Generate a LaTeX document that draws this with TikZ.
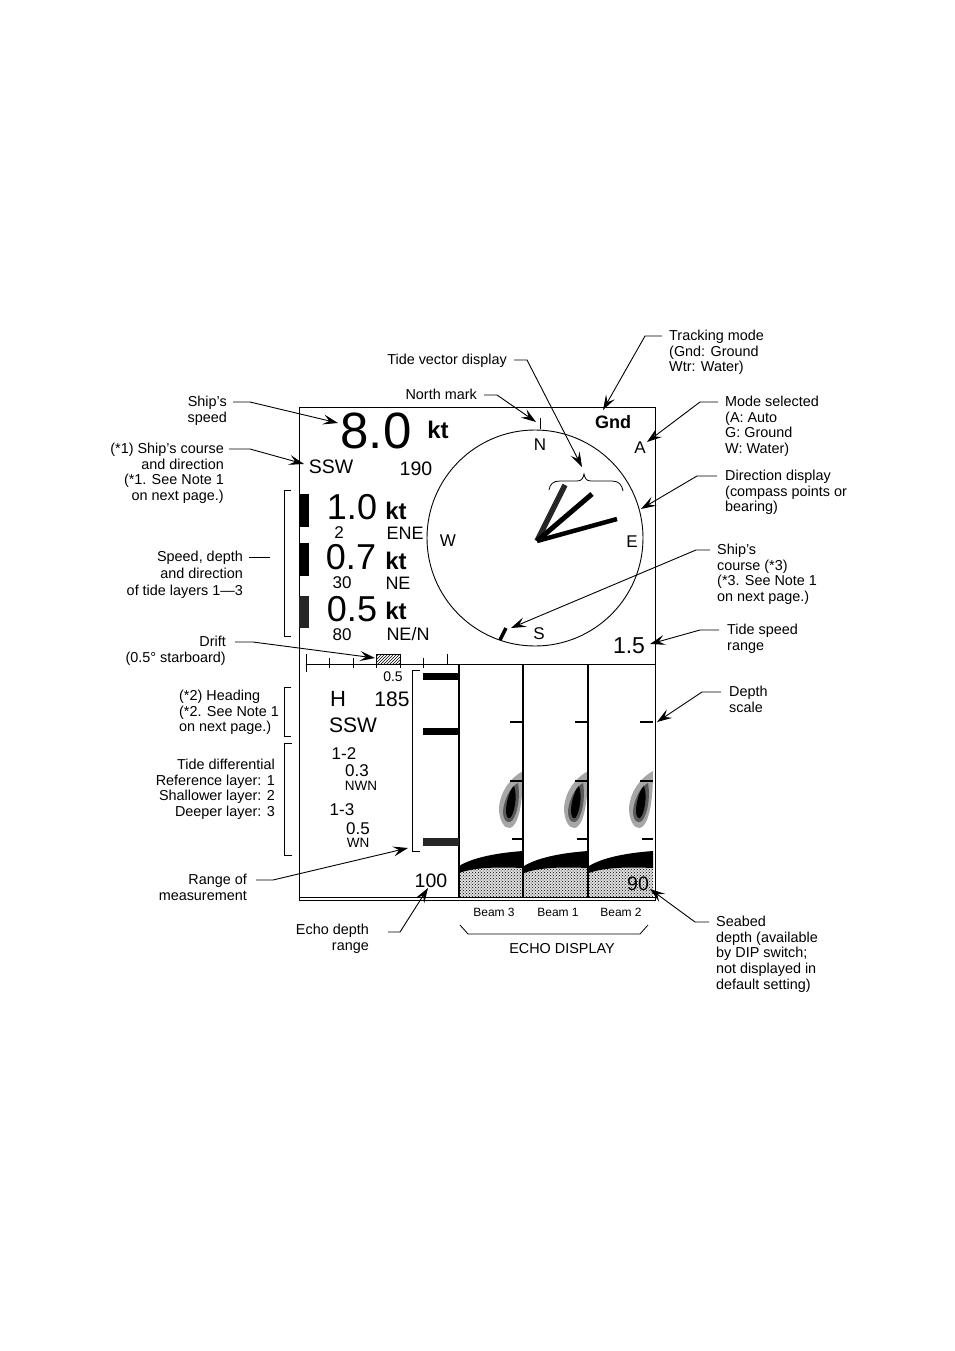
\documentclass[tikz,border=0pt]{standalone}
\usepackage{fontspec}
\setmainfont{Liberation Sans}
\usetikzlibrary{arrows.meta,patterns,calc}
\newcommand{\fs}[1]{\fontsize{#1}{#1}\selectfont}
\tikzset{
 lbl/.style={inner sep=0pt,font=\fontsize{14.4}{15.6}\selectfont},
 lbll/.style={lbl,anchor=north west,align=left},
 lblr/.style={lbl,anchor=north east,align=right},
 disp/.style={inner sep=0pt,anchor=center},
 lead/.style={line width=0.9pt,-{Stealth[length=15pt,width=10pt,inset=6pt]}},
 plain/.style={line width=0.8pt},
 frame/.style={line width=1pt},
 heavy/.style={line width=1.2pt}
}
\begin{document}
\begin{tikzpicture}[x=1pt,y=-1pt]
\useasboundingbox (0,0) rectangle (954,1351);
\fill[white] (0,0) rectangle (954,1351);
% echo beams
\foreach \sx/\nm in {0/a,65/b,130/c}{
 \begin{scope}[xshift=\sx pt]
  \fill[gray!25] (459,868) -- (459,897) -- (523,897) -- (523,866) -- cycle;
  \fill[pattern=crosshatch dots,pattern color=black] (459,868) -- (459,897) -- (523,897) -- (523,866) -- cycle;
  \fill[black] (459,866) .. controls (472,858) and (495,853) .. (523,851) -- (523,868) .. controls (500,867) and (475,867) .. (459,873) -- cycle;
  \fill[gray!70] (523,771) .. controls (510,778) and (500,792) .. (499,808) .. controls (499,820) and (504,829) .. (510,828) .. controls (518,826) and (523,805) .. (523,771) -- cycle;
  \fill[black!65] (518,783) .. controls (510,787) and (504,800) .. (503,811) .. controls (503,819) and (506,823) .. (510,822) .. controls (516,820) and (521,800) .. (518,783) -- cycle;
  \fill[black] (514,786) .. controls (510,789) and (506,802) .. (506,811) .. controls (506,816) and (508,819) .. (510,818) .. controls (514,815) and (518,796) .. (514,786) -- cycle;
  \draw[heavy] (510,722) -- (523,722);
  \draw[heavy] (510,781) -- (523,781);
  \draw[heavy] (512,839) -- (523,839);
 \end{scope}
}
% frame
\draw[frame] (299,407) rectangle (655,900);
\draw[frame] (306,664) -- (655,664);
\draw[frame] (299,897) -- (655,897);
\draw[heavy] (459,664) -- (459,897);
\draw[heavy] (523,664) -- (523,897);
\draw[heavy] (588,664) -- (588,897);
% compass
\node[draw,circle,line width=0.9pt,minimum size=216pt,inner sep=0pt] (dial) at (535,538) {};
\draw[plain] (540,418) -- (540,429);
\coordinate (hub) at (537,541);
\coordinate (v1) at (565,485);
\coordinate (v2) at (592,494);
\coordinate (v3) at (617,519);
\draw[line width=5.5pt,black!85] (hub) -- (v1);
\draw[line width=5pt] (hub) -- (v2);
\draw[line width=4.5pt] (hub) -- (v3);
\draw[line width=3.5pt] (500,640) -- (506,628);
\draw[plain] (549,490) .. controls (550,484) and (553,481) .. (560,481) -- (577,481) .. controls (582,481) and (583,478) .. (584,474) .. controls (585,478) and (586,481) .. (591,481) -- (612,481) .. controls (619,481) and (622,485) .. (623,491);
% left bars
\fill (299,494) rectangle (309,527);
\fill (299,543) rectangle (309,576);
\fill[black!85] (299,596) rectangle (309,628);
% drift scale
\draw[frame] (306,654) -- (306,672);
\foreach \tx in {329,353,376,400,423}{\draw[plain] (\tx,658) -- (\tx,668);}
\draw[frame] (447,654) -- (447,664);
\draw[plain,pattern=north east lines,pattern color=black] (376,654) rectangle (400,664);
% brackets
\draw[plain] (291,490) -- (284,490) -- (284,636) -- (291,636);
\draw[plain] (291,687) -- (284,687) -- (284,736) -- (291,736);
\draw[plain] (292,743) -- (284,743) -- (284,855) -- (292,855);
\draw[frame] (420,670) -- (412,670) -- (412,851) -- (420,851);
\fill (423,673) rectangle (459,680);
\fill (423,728) rectangle (459,735);
\fill[black!85] (423,838) rectangle (459,846);
% readouts
\node[disp,font=\fs{51}] (spd) at (376,431) {8.0};
\node[disp,font=\bfseries\fs{24}] (kt0) at (438,430) {kt};
\node[disp,font=\bfseries\fs{18}] (gnd) at (613,422) {Gnd};
\node[disp,font=\fs{19.5}] (ssw) at (331,467) {SSW};
\node[disp,font=\fs{19.5}] (c190) at (416,469) {190};
\node[disp,font=\fs{36}] (s1) at (352,507) {1.0};
\node[disp,font=\bfseries\fs{24}] (k1) at (396,511) {kt};
\node[disp,font=\fs{17}] (d1) at (339,533) {2};
\node[disp,font=\fs{18}] (b1) at (405,533) {ENE};
\node[disp,font=\fs{36}] (s2) at (351,557) {0.7};
\node[disp,font=\bfseries\fs{24}] (k2) at (396,561) {kt};
\node[disp,font=\fs{17}] (d2) at (342,583) {30};
\node[disp,font=\fs{18}] (b2) at (398,583) {NE};
\node[disp,font=\fs{36}] (s3) at (352,609) {0.5};
\node[disp,font=\bfseries\fs{24}] (k3) at (396,611) {kt};
\node[disp,font=\fs{17}] (d3) at (342,635) {80};
\node[disp,font=\fs{18}] (b3) at (408,634) {NE/N};
\node[disp,font=\fs{17}] (cn) at (540,445) {N};
\node[disp,font=\fs{17}] (ca) at (640,448) {A};
\node[disp,font=\fs{17}] (cw) at (448,541) {W};
\node[disp,font=\fs{17}] (ce) at (632,542) {E};
\node[disp,font=\fs{17}] (cs) at (539,634) {S};
\node[disp,font=\fs{23}] (rng) at (629,646) {1.5};
\node[disp,font=\fs{14}] (d05) at (393,677) {0.5};
\node[disp,font=\fs{22}] (hh) at (338,699) {H};
\node[disp,font=\fs{21}] (h185) at (392,699) {185};
\node[disp,font=\fs{21}] (hssw) at (353,725) {SSW};
\node[disp,font=\fs{17}] (t12) at (344,754) {1-2};
\node[disp,font=\fs{17}] (v12) at (357,771) {0.3};
\node[disp,font=\fs{13.5}] (n12) at (361,786) {NWN};
\node[disp,font=\fs{17}] (t13) at (342,810) {1-3};
\node[disp,font=\fs{17}] (v13) at (358,829) {0.5};
\node[disp,font=\fs{13.5}] (n13) at (358,843) {WN};
\node[disp,font=\fs{19.5}] (r100) at (431,881) {100};
\node[disp,font=\fs{19.5}] (d90) at (638,884) {90};
\node[disp,font=\fs{12}] (bm3) at (494,912) {Beam 3};
\node[disp,font=\fs{12}] (bm1) at (558,912) {Beam 1};
\node[disp,font=\fs{12}] (bm2) at (621,912) {Beam 2};
\node[lbl] (echo) at (562,949) {ECHO DISPLAY};
\draw[plain] (460,925) -- (468,934) -- (640,934) -- (648,925);
% labels
\node[lbll] (ltrack) at (669,330) {Tracking mode\\(Gnd: Ground\\Wtr: Water)};
\node[lblr] (ltide) at (507,354) {Tide vector display};
\node[lblr] (lnorth) at (477,389) {North mark};
\node[lbll] (lmode) at (725,396) {Mode selected\\(A: Auto\\G: Ground\\W: Water)};
\node[lblr] (lspeed) at (227,396) {Ship's\\speed};
\node[lblr] (lcourse) at (224,443) {(*1) Ship's course\\and direction\\(*1. See Note 1\\on next page.)};
\node[lbll] (ldir) at (725,470) {Direction display\\(compass points or\\bearing)};
\node[lbll] (lsc) at (717,544) {Ship's\\course (*3)\\(*3. See Note 1\\on next page.)};
\node[lblr,font=\fontsize{14.4}{17}\selectfont] (llay) at (243,551) {Speed, depth\\and direction\\of tide layers 1—3};
\node[lbll] (lrange) at (727,624) {Tide speed\\range};
\node[lblr] (ldrift) at (226,636) {Drift\\(0.5° starboard)};
\node[lbll] (lhead) at (179,690) {(*2) Heading\\(*2. See Note 1\\on next page.)};
\node[lbll] (ldepth) at (729,686) {Depth\\scale};
\node[lblr] (ldiff) at (275,759) {Tide differential\\Reference layer: 1\\Shallower layer: 2\\Deeper layer: 3};
\node[lblr] (lmeas) at (247,874) {Range of\\measurement};
\node[lblr] (lecho) at (369,924) {Echo depth\\range};
\node[lbll] (lsea) at (716,916) {Seabed\\depth (available\\by DIP switch;\\not displayed in\\default setting)};
% connector points
\coordinate (a1) at (662,336); \coordinate (a1b) at (645,336); \coordinate (a1t) at (603,410);
\coordinate (a2) at (514,360); \coordinate (a2b) at (527,360); \coordinate (a2t) at (582,467);
\coordinate (a3) at (484,395); \coordinate (a3b) at (497,395); \coordinate (a3t) at (536,422);
\coordinate (a4) at (718,402); \coordinate (a4b) at (700,402); \coordinate (a4t) at (647,442);
\coordinate (a5) at (717,476); \coordinate (a5b) at (697,476); \coordinate (a5t) at (641,509);
\coordinate (a6) at (710,550); \coordinate (a6b) at (696,550); \coordinate (a6t) at (511,628);
\coordinate (a7) at (719,630); \coordinate (a7b) at (700,630); \coordinate (a7t) at (650,644);
\coordinate (a8) at (721,692); \coordinate (a8b) at (702,692); \coordinate (a8t) at (657,722);
\coordinate (a9) at (709,922); \coordinate (a9b) at (695,922); \coordinate (a9t) at (650,889);
\coordinate (a10) at (388,932); \coordinate (a10b) at (400,932); \coordinate (a10t) at (428,888);
\coordinate (a11) at (256,880); \coordinate (a11b) at (273,880); \coordinate (a11t) at (408,848);
\coordinate (a12) at (235,642); \coordinate (a12b) at (253,642); \coordinate (a12t) at (375,658);
\coordinate (a13) at (233,402); \coordinate (a13b) at (250,402); \coordinate (a13t) at (338,423);
\coordinate (a14) at (229,449); \coordinate (a14b) at (250,449); \coordinate (a14t) at (304,464);
\coordinate (a15) at (249,557); \coordinate (a15b) at (270,557);
\foreach \p/\q/\r in {a1/a1b/a1t,a2/a2b/a2t,a3/a3b/a3t,a4/a4b/a4t,a5/a5b/a5t,a6/a6b/a6t,a7/a7b/a7t,a8/a8b/a8t,a9/a9b/a9t,a10/a10b/a10t,a11/a11b/a11t,a12/a12b/a12t,a13/a13b/a13t,a14/a14b/a14t}{
 \draw[lead] (\p) -- (\q) -- (\r);
}
\draw[plain] (a15) -- (a15b);
\end{tikzpicture}
\end{document}
